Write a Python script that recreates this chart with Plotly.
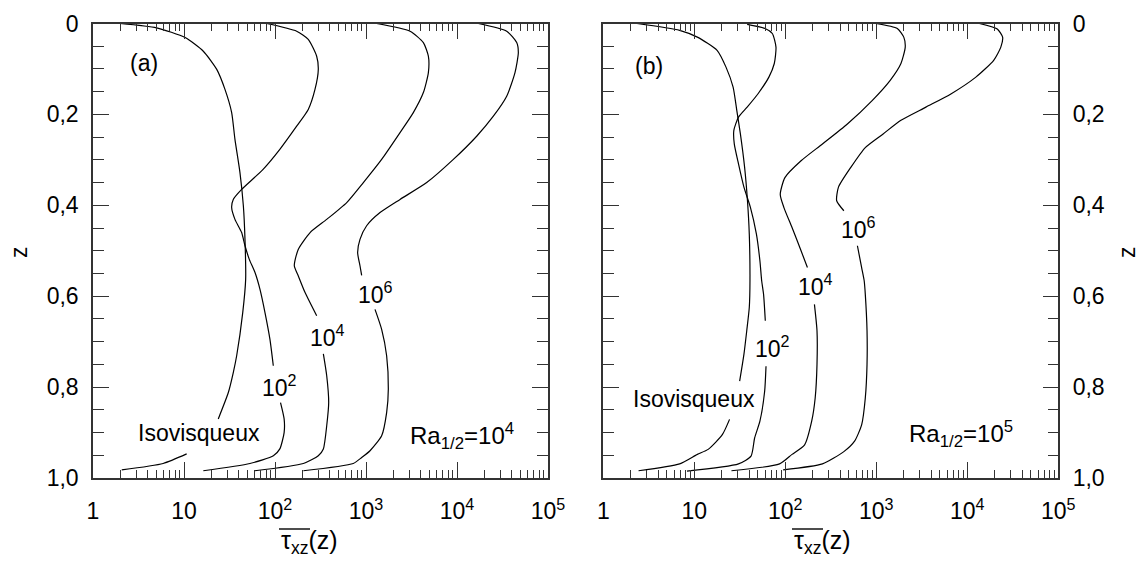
import plotly.graph_objects as go

# ---------------- data ----------------
# Panel (a): Ra_1/2 = 1e4
iso_a_tau = [1.98, 5.0, 10.3, 16.3, 22.9, 28.2, 33.4, 36.3, 41.2, 44.9, 46.8, 47.6, 44.2, 37.9, 34.8, 30.7, 23.8, None, 10.7, 5.9, 2.07]
iso_a_z = [0, 0.0095, 0.031, 0.061, 0.101, 0.145, 0.196, 0.255, 0.328, 0.401, 0.475, 0.563, 0.636, 0.731, 0.768, 0.812, 0.870, None, 0.947, 0.968, 0.982]

r2_a_tau = [81, 173, 232, 287, 299, 275, 232, 173, 113, 74, 43, 34.8, 33.4, 36.3, 43, 46.8, 52.2, 60.3, 68.4, 77.6, 88, 95.8, None, 115, 126, 126, 113, 96, 53, 16.3]
r2_a_z = [0, 0.017, 0.035, 0.072, 0.101, 0.145, 0.189, 0.226, 0.277, 0.321, 0.365, 0.387, 0.405, 0.431, 0.46, 0.489, 0.519, 0.548, 0.585, 0.636, 0.695, 0.753, None, 0.834, 0.870, 0.9, 0.936, 0.951, 0.968, 0.984]

r4_a_tau = [1309, 3047, 4270, 4846, 4846, 4270, 3311, 2366, 1486, 935, 614, 370, 243, 180, 163, 180, 214, 287, None, 340, 370, 389, 370, 340, 299, 205, 60]
r4_a_z = [0, 0.017, 0.042, 0.072, 0.108, 0.152, 0.196, 0.240, 0.299, 0.350, 0.394, 0.431, 0.46, 0.497, 0.533, 0.555, 0.592, 0.643, None, 0.727, 0.775, 0.834, 0.885, 0.936, 0.951, 0.968, 0.984]

r6_a_tau = [17140, 35160, 45290, 47210, 43380, 35160, 25090, 16450, 9120, 4645, 2366, 1426, 1016, 859, 809, 859, 896, None, 1256, 1486, 1686, 1759, 1686, 1486, 1107, 896, 725, 205]
r6_a_z = [0, 0.017, 0.042, 0.064, 0.108, 0.160, 0.204, 0.248, 0.299, 0.350, 0.387, 0.416, 0.445, 0.475, 0.504, 0.533, 0.554, None, 0.629, 0.673, 0.731, 0.804, 0.856, 0.907, 0.940, 0.955, 0.968, 0.984]

# Panel (b): Ra_1/2 = 1e5
iso_b_tau = [2.34, 6.9, 10.8, 17.8, 22.3, 26.7, 29.3, 32.1, 35.7, 38.4, 40.2, 40.9, 40.2, 37.7, 35.1, 31.5, None, 24.4, 20.4, 14.2, 10.8, 6.9, 2.44]
iso_b_z = [0, 0.015, 0.03, 0.059, 0.096, 0.14, 0.191, 0.243, 0.316, 0.39, 0.463, 0.566, 0.625, 0.676, 0.728, 0.787, None, 0.871, 0.904, 0.937, 0.948, 0.969, 0.984]

r2_b_tau = [38.1, 60, 72, 79, 75.7, 66, 50.4, 38.1, 30.6, 27.2, 27.5, 30.6, 35.1, 41.3, 48.1, 52.6, 55, 57.7, 60.3, None, 61.4, 59.3, 52.6, 46, 42, 30.6, 8.3]
r2_b_z = [0.002, 0.011, 0.022, 0.052, 0.088, 0.118, 0.154, 0.184, 0.206, 0.235, 0.265, 0.309, 0.36, 0.404, 0.463, 0.522, 0.566, 0.596, 0.654, None, 0.754, 0.809, 0.875, 0.912, 0.952, 0.969, 0.985]

r4_b_tau = [991, 1702, 2004, 2080, 1866, 1422, 906, 481, 256, 149, 99, 88, 96.6, 118.6, 149, 175, None, 209, 223, 223, 213, 195, 163, 118.6, 86.5, 25.6]
r4_b_z = [0, 0.011, 0.03, 0.052, 0.088, 0.125, 0.169, 0.221, 0.265, 0.302, 0.339, 0.376, 0.405, 0.449, 0.5, 0.537, None, 0.618, 0.676, 0.75, 0.824, 0.875, 0.927, 0.948, 0.969, 0.984]

r6_b_tau = [13580, 21340, 24440, 23360, 19500, 12420, 6600, 3510, 1866, 1189, 757, 527, 384, 367, 440, None, 620, 690, 736, 757, 791, 791, 757, 690, 577, 440, 256, 94.7]
r6_b_z = [0, 0.012, 0.03, 0.052, 0.081, 0.118, 0.155, 0.184, 0.213, 0.243, 0.273, 0.316, 0.36, 0.39, 0.412, None, 0.489, 0.537, 0.566, 0.596, 0.676, 0.75, 0.824, 0.883, 0.919, 0.942, 0.969, 0.982]

# tick labels
x_tick_vals = [1, 10, 100, 1000, 10000, 100000]
x_tick_text = ["1", "10", "10<sup>2</sup>", "10<sup>3</sup>", "10<sup>4</sup>", "10<sup>5</sup>"]
y_tick_vals = [0, 0.2, 0.4, 0.6, 0.8, 1.0]
y_tick_text = ["0", "0,2", "0,4", "0,6", "0,8", "1,0"]
x_minor_vals = [m * 10 ** d for d in range(5) for m in range(2, 10)]

# ---------------- figure ----------------
FONT = "Liberation Sans, Arial, Helvetica, sans-serif"
AX = "#333333"
FS = 23
W, H = 1139, 561

fig = go.Figure()

def add_curve(x, y, xa, ya):
    fig.add_trace(go.Scatter(
        x=x, y=y, xaxis=xa, yaxis=ya, mode="lines",
        line=dict(color="black", width=1.2, shape="spline", smoothing=0.6),
        connectgaps=False, showlegend=False, hoverinfo="skip"))

for tx, zz in [(iso_a_tau, iso_a_z), (r2_a_tau, r2_a_z), (r4_a_tau, r4_a_z), (r6_a_tau, r6_a_z)]:
    add_curve(tx, zz, "x", "y")
for tx, zz in [(iso_b_tau, iso_b_z), (r2_b_tau, r2_b_z), (r4_b_tau, r4_b_z), (r6_b_tau, r6_b_z)]:
    add_curve(tx, zz, "x2", "y2")

def xaxis(domain, anchor):
    return dict(
        domain=domain, anchor=anchor, type="log", range=[0, 5], automargin=False,
        showline=True, linecolor=AX, linewidth=1.5, mirror="ticks",
        ticks="inside", ticklen=16, tickwidth=1.2, tickcolor=AX,
        tickmode="array", tickvals=x_tick_vals, ticktext=x_tick_text,
        tickfont=dict(family=FONT, size=FS, color="black"),
        ticklabelstandoff=12,
        minor=dict(tickmode="array", tickvals=x_minor_vals, ticks="inside",
                   ticklen=8, tickwidth=1.2, tickcolor=AX, showgrid=False),
        showgrid=False, zeroline=False, fixedrange=True)

def yaxis(domain, anchor, side):
    return dict(
        domain=domain, anchor=anchor, side=side, range=[1, 0], automargin=False,
        showline=True, linecolor=AX, linewidth=1.5, mirror="ticks",
        ticks="inside", ticklen=16, tickwidth=1.2, tickcolor=AX,
        tickmode="array", tickvals=y_tick_vals, ticktext=y_tick_text,
        tickfont=dict(family=FONT, size=FS, color="black"),
        ticklabelstandoff=8,
        minor=dict(tickmode="linear", tick0=0, dtick=0.05, ticks="inside",
                   ticklen=11, tickwidth=1.2, tickcolor=AX, showgrid=False),
        showgrid=False, zeroline=False, fixedrange=True)

YDOM = [1 - 478 / H, 1 - 23.5 / H]
fig.update_layout(
    width=W, height=H,
    margin=dict(l=0, r=0, t=0, b=0, autoexpand=False),
    paper_bgcolor="white", plot_bgcolor="white",
    font=dict(family=FONT, size=FS, color="black"),
    xaxis=xaxis([93 / W, 548 / W], "y"),
    yaxis=yaxis(YDOM, "x", "left"),
    xaxis2=xaxis([603.3 / W, 1058.3 / W], "y2"),
    yaxis2=yaxis(YDOM, "x2", "right"),
    showlegend=False,
)

def note(text, x, y, xref, yref, angle=0, size=FS):
    fig.add_annotation(text=text, x=x, y=y, xref=xref, yref=yref, showarrow=False,
                       font=dict(family=FONT, size=size, color="black"),
                       xanchor="center", yanchor="middle", textangle=angle)

# panel (a) labels (x in log10 units)
note("(a)", 0.56, 0.088, "x", "y")
note("Isovisqueux", 1.165, 0.901, "x", "y")
note("10<sup>2</sup>", 2.048, 0.798, "x", "y")
note("10<sup>4</sup>", 2.575, 0.687, "x", "y")
note("10<sup>6</sup>", 3.106, 0.593, "x", "y")
note("Ra<sub>1/2</sub>=10<sup>4</sup>", 4.058, 0.907, "x", "y", size=24)
# panel (b) labels
note("(b)", 0.503, 0.093, "x2", "y2")
note("Isovisqueux", 1.002, 0.826, "x2", "y2")
note("10<sup>2</sup>", 1.858, 0.712, "x2", "y2")
note("10<sup>4</sup>", 2.337, 0.576, "x2", "y2")
note("10<sup>6</sup>", 2.80, 0.451, "x2", "y2")
note("Ra<sub>1/2</sub>=10<sup>5</sup>", 3.93, 0.903, "x2", "y2", size=24)

# axis titles (overline drawn as a thin line above tau_xz)
xtitle = "τ<sub>xz</sub>(z)"
for cx in (309, 822):
    note(xtitle, cx / W, 1 - 542 / H, "paper", "paper", size=25)
    fig.add_shape(type="line", xref="paper", yref="paper",
                  x0=(cx - 30) / W, x1=(cx + 1) / W, y0=1 - 529 / H, y1=1 - 529 / H,
                  line=dict(color="black", width=1.4))
note("z", 19 / W, 1 - 252 / H, "paper", "paper", angle=-90)
note("z", 1127 / W, 1 - 252 / H, "paper", "paper", angle=-90)

fig.write_html("out.html")
